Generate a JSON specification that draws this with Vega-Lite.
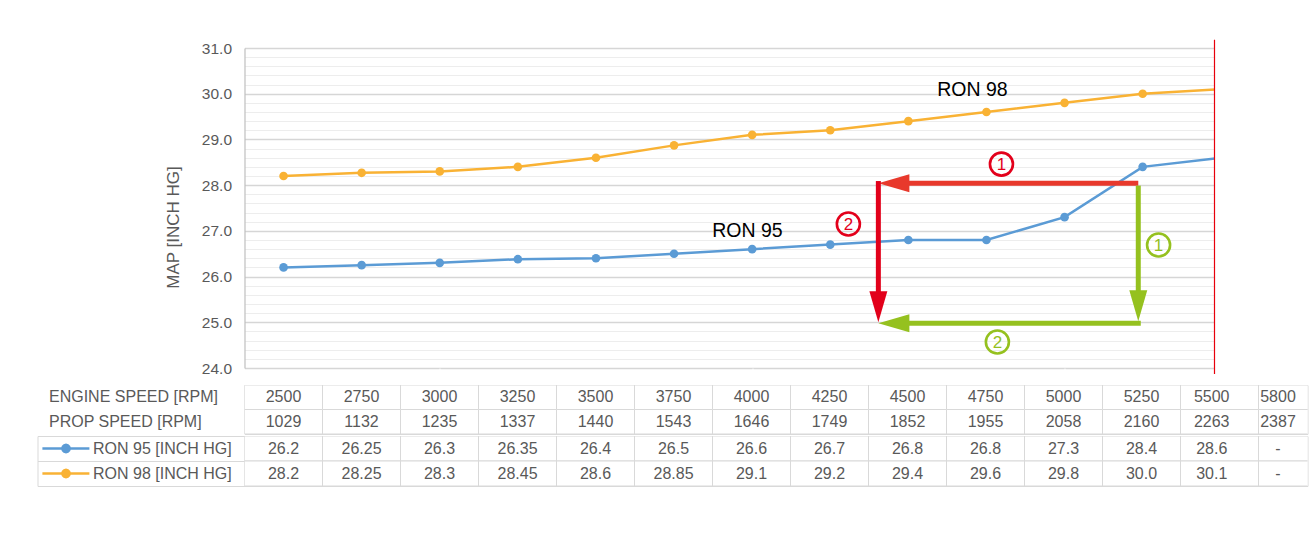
{
  "$schema": "https://vega.github.io/schema/vega-lite/v6.json",
  "padding": {"left": 36.5, "top": 39, "right": 5, "bottom": 5},
  "background": "#ffffff",
  "datasets": {
    "series": [
      {"rpm": 2500, "fuel": "RON 95", "map": 26.2},
      {"rpm": 2750, "fuel": "RON 95", "map": 26.25},
      {"rpm": 3000, "fuel": "RON 95", "map": 26.3},
      {"rpm": 3250, "fuel": "RON 95", "map": 26.38},
      {"rpm": 3500, "fuel": "RON 95", "map": 26.4},
      {"rpm": 3750, "fuel": "RON 95", "map": 26.5},
      {"rpm": 4000, "fuel": "RON 95", "map": 26.6},
      {"rpm": 4250, "fuel": "RON 95", "map": 26.7},
      {"rpm": 4500, "fuel": "RON 95", "map": 26.8},
      {"rpm": 4750, "fuel": "RON 95", "map": 26.8},
      {"rpm": 5000, "fuel": "RON 95", "map": 27.3},
      {"rpm": 5250, "fuel": "RON 95", "map": 28.4},
      {"rpm": 5500, "fuel": "RON 95", "map": 28.6},
      {"rpm": 2500, "fuel": "RON 98", "map": 28.2},
      {"rpm": 2750, "fuel": "RON 98", "map": 28.27},
      {"rpm": 3000, "fuel": "RON 98", "map": 28.3},
      {"rpm": 3250, "fuel": "RON 98", "map": 28.4},
      {"rpm": 3500, "fuel": "RON 98", "map": 28.6},
      {"rpm": 3750, "fuel": "RON 98", "map": 28.87},
      {"rpm": 4000, "fuel": "RON 98", "map": 29.1},
      {"rpm": 4250, "fuel": "RON 98", "map": 29.2},
      {"rpm": 4500, "fuel": "RON 98", "map": 29.4},
      {"rpm": 4750, "fuel": "RON 98", "map": 29.6},
      {"rpm": 5000, "fuel": "RON 98", "map": 29.8},
      {"rpm": 5250, "fuel": "RON 98", "map": 30.0},
      {"rpm": 5500, "fuel": "RON 98", "map": 30.1}
    ],
    "table": [
      {"e": "2500", "p": "1029", "r95": "26.2", "r98": "28.2"},
      {"e": "2750", "p": "1132", "r95": "26.25", "r98": "28.25"},
      {"e": "3000", "p": "1235", "r95": "26.3", "r98": "28.3"},
      {"e": "3250", "p": "1337", "r95": "26.35", "r98": "28.45"},
      {"e": "3500", "p": "1440", "r95": "26.4", "r98": "28.6"},
      {"e": "3750", "p": "1543", "r95": "26.5", "r98": "28.85"},
      {"e": "4000", "p": "1646", "r95": "26.6", "r98": "29.1"},
      {"e": "4250", "p": "1749", "r95": "26.7", "r98": "29.2"},
      {"e": "4500", "p": "1852", "r95": "26.8", "r98": "29.4"},
      {"e": "4750", "p": "1955", "r95": "26.8", "r98": "29.6"},
      {"e": "5000", "p": "2058", "r95": "27.3", "r98": "29.8"},
      {"e": "5250", "p": "2160", "r95": "28.4", "r98": "30.0"},
      {"e": "5500", "p": "2263", "r95": "28.6", "r98": "30.1"},
      {"e": "5800", "p": "2387", "r95": "-", "r98": "-"}
    ]
  },
  "spacing": 0,
  "resolve": {"scale": {"x": "independent", "y": "independent", "color": "independent"}, "axis": {"x": "independent", "y": "independent"}},
  "vconcat": [
    {
      "width": 970,
      "height": 320,
      "view": {"stroke": null},
      "layer": [
        {
          "data": {"name": "series"},
          "mark": {"type": "line", "strokeWidth": 2.5, "clip": true},
          "encoding": {
            "x": {"field": "rpm", "type": "quantitative", "scale": {"domain": [2375, 5480], "nice": false, "zero": false},
              "axis": {"labels": false, "domain": false, "grid": false, "ticks": true, "tickSize": 15, "tickColor": "#ffffff", "tickCount": 3, "title": null}},
            "y": {"field": "map", "type": "quantitative", "scale": {"domain": [24, 31], "nice": false, "zero": false},
              "axis": {
                "values": [24, 24.2, 24.4, 24.6, 24.8, 25, 25.2, 25.4, 25.6, 25.8, 26, 26.2, 26.4, 26.6, 26.8, 27, 27.2, 27.4, 27.6, 27.8, 28, 28.2, 28.4, 28.6, 28.8, 29, 29.2, 29.4, 29.6, 29.8, 30, 30.2, 30.4, 30.6, 30.8, 31],
                "tickCount": 60,
                "labelOverlap": false,
                "labelExpr": "abs(datum.value - round(datum.value)) < 0.001 ? format(datum.value, '.1f') : ''",
                "grid": true,
                "gridColor": {"condition": {"test": "abs(datum.value - round(datum.value)) < 0.001", "value": "#d6d6d6"}, "value": "#ededed"},
                "gridWidth": {"condition": {"test": "abs(datum.value - round(datum.value)) < 0.001", "value": 1.3}, "value": 1},
                "ticks": false,
                "domain": true,
                "domainColor": "#bfbfbf",
                "domainWidth": 1.2,
                "labelPadding": 13,
                "labelFontSize": 15.5,
                "labelColor": "#595959",
                "title": "MAP [INCH HG]",
                "titleFontSize": 17,
                "titleFontWeight": "normal",
                "titleColor": "#595959",
                "titlePadding": 19,
                "titleY": 179
              }},
            "color": {"field": "fuel", "type": "nominal", "scale": {"domain": ["RON 95", "RON 98"], "range": ["#5b9bd5", "#f9b234"]}, "legend": null}
          }
        },
        {
          "data": {"name": "series"},
          "transform": [{"filter": "datum.rpm <= 5250"}],
          "mark": {"type": "point", "filled": true, "opacity": 1, "size": 75},
          "encoding": {
            "x": {"field": "rpm", "type": "quantitative"},
            "y": {"field": "map", "type": "quantitative"},
            "color": {"field": "fuel", "type": "nominal", "legend": null}
          }
        },
        {
          "data": {"values": [{}]},
          "mark": {"type": "rule", "color": "#e8000b", "strokeWidth": 1.2},
          "encoding": {"x": {"datum": 5480}, "y": {"datum": 31.18}, "y2": {"datum": 23.87}}
        },
        {
          "data": {"values": [{}]},
          "mark": {"type": "text", "fontSize": 19.5, "color": "#000000"},
          "encoding": {"x": {"datum": 4705}, "y": {"datum": 30.08}, "text": {"value": "RON 98"}}
        },
        {
          "data": {"values": [{}]},
          "mark": {"type": "text", "fontSize": 19.5, "color": "#000000"},
          "encoding": {"x": {"datum": 3985}, "y": {"datum": 27.0}, "text": {"value": "RON 95"}}
        },
        {
          "data": {"values": [{}]},
          "mark": {"type": "rule", "color": "#e8392c", "strokeWidth": 5, "strokeCap": "butt"},
          "encoding": {"x": {"datum": 5236}, "x2": {"datum": 4452}, "y": {"datum": 28.04}}
        },
        {
          "data": {"values": [{}]},
          "mark": {"type": "point", "shape": "M0,0L1,-0.29L1,0.29Z", "size": 3844, "filled": true, "opacity": 1, "color": "#e8392c", "strokeWidth": 0},
          "encoding": {"x": {"datum": 4404}, "y": {"datum": 28.04}}
        },
        {
          "data": {"values": [{}]},
          "mark": {"type": "rule", "color": "#e2001a", "strokeWidth": 5, "strokeCap": "butt"},
          "encoding": {"x": {"datum": 4404}, "y": {"datum": 28.09}, "y2": {"datum": 25.33}}
        },
        {
          "data": {"values": [{}]},
          "mark": {"type": "point", "shape": "M0,0L-0.29,-1L0.29,-1Z", "size": 3844, "filled": true, "opacity": 1, "color": "#e2001a", "strokeWidth": 0},
          "encoding": {"x": {"datum": 4404}, "y": {"datum": 25.0}}
        },
        {
          "data": {"values": [{}]},
          "mark": {"type": "rule", "color": "#95c11f", "strokeWidth": 5, "strokeCap": "butt"},
          "encoding": {"x": {"datum": 5236}, "y": {"datum": 27.99}, "y2": {"datum": 25.33}}
        },
        {
          "data": {"values": [{}]},
          "mark": {"type": "point", "shape": "M0,0L-0.29,-1L0.29,-1Z", "size": 3844, "filled": true, "opacity": 1, "color": "#95c11f", "strokeWidth": 0},
          "encoding": {"x": {"datum": 5236}, "y": {"datum": 25.02}}
        },
        {
          "data": {"values": [{}]},
          "mark": {"type": "rule", "color": "#95c11f", "strokeWidth": 5, "strokeCap": "butt"},
          "encoding": {"x": {"datum": 5244}, "x2": {"datum": 4452}, "y": {"datum": 24.98}}
        },
        {
          "data": {"values": [{}]},
          "mark": {"type": "point", "shape": "M0,0L1,-0.29L1,0.29Z", "size": 3844, "filled": true, "opacity": 1, "color": "#95c11f", "strokeWidth": 0},
          "encoding": {"x": {"datum": 4404}, "y": {"datum": 24.98}}
        },
        {
          "data": {"values": [{"rpm": 4798, "map": 28.46, "n": "1"}, {"rpm": 4308, "map": 27.15, "n": "2"}]},
          "mark": {"type": "point", "shape": "circle", "filled": false, "size": 530, "strokeWidth": 2.6, "color": "#e3001b", "opacity": 1},
          "encoding": {"x": {"field": "rpm", "type": "quantitative"}, "y": {"field": "map", "type": "quantitative"}}
        },
        {
          "data": {"values": [{"rpm": 4798, "map": 28.46, "n": "1"}, {"rpm": 4308, "map": 27.15, "n": "2"}]},
          "mark": {"type": "text", "fontSize": 17, "color": "#e3001b", "dy": 1},
          "encoding": {"x": {"field": "rpm", "type": "quantitative"}, "y": {"field": "map", "type": "quantitative"}, "text": {"field": "n"}}
        },
        {
          "data": {"values": [{"rpm": 5301, "map": 26.69, "n": "1"}, {"rpm": 4785, "map": 24.57, "n": "2"}]},
          "mark": {"type": "point", "shape": "circle", "filled": false, "size": 530, "strokeWidth": 2.6, "color": "#95c11f", "opacity": 1},
          "encoding": {"x": {"field": "rpm", "type": "quantitative"}, "y": {"field": "map", "type": "quantitative"}}
        },
        {
          "data": {"values": [{"rpm": 5301, "map": 26.69, "n": "1"}, {"rpm": 4785, "map": 24.57, "n": "2"}]},
          "mark": {"type": "text", "fontSize": 17, "color": "#95c11f", "dy": 1},
          "encoding": {"x": {"field": "rpm", "type": "quantitative"}, "y": {"field": "map", "type": "quantitative"}, "text": {"field": "n"}}
        }
      ]
    },
    {
      "width": 1063,
      "height": 49,
      "view": {"stroke": "#d9d9d9", "strokeWidth": 1},
      "data": {"name": "table"},
      "transform": [{"fold": ["e", "p"], "as": ["row", "text"]}],
      "layer": [
        {
          "mark": {"type": "rect", "fill": "#ffffff", "stroke": "#d9d9d9", "strokeWidth": 1, "clip": true},
          "encoding": {
            "x": {"field": "e", "type": "nominal", "sort": null, "scale": {"domain": ["2500","2750","3000","3250","3500","3750","4000","4250","4500","4750","5000","5250","5500","5800"], "range": [0, 1092], "paddingInner": 0, "paddingOuter": 0}, "axis": null},
            "y": {"field": "row", "type": "nominal", "sort": null, "scale": {"domain": ["e", "p"], "paddingInner": 0, "paddingOuter": 0},
              "axis": {"title": null, "domain": false, "ticks": false, "labelAlign": "left", "labelPadding": 196, "labelFontSize": 16, "labelColor": "#595959", "labelExpr": "datum.value == 'e' ? 'ENGINE SPEED [RPM]' : 'PROP SPEED [RPM]'"}}
          }
        },
        {
          "transform": [{"filter": "datum.e != '5500' && datum.e != '5800'"}],
          "mark": {"type": "text", "fontSize": 16, "color": "#595959"},
          "encoding": {
            "x": {"field": "e", "type": "nominal", "sort": null},
            "y": {"field": "row", "type": "nominal", "sort": null},
            "text": {"field": "text"}
          }
        },
        {
          "transform": [{"filter": "datum.e == '5500'"}],
          "mark": {"type": "text", "fontSize": 16, "color": "#595959"},
          "encoding": {
            "x": {"field": "e", "type": "nominal", "sort": null, "bandPosition": 0.4},
            "y": {"field": "row", "type": "nominal", "sort": null},
            "text": {"field": "text"}
          }
        },
        {
          "transform": [{"filter": "datum.e == '5800'"}],
          "mark": {"type": "text", "fontSize": 16, "color": "#595959"},
          "encoding": {
            "x": {"field": "e", "type": "nominal", "sort": null, "bandPosition": 0.25},
            "y": {"field": "row", "type": "nominal", "sort": null},
            "text": {"field": "text"}
          }
        }
      ]
    },
    {
      "width": 1063,
      "height": 50,
      "view": {"stroke": "#d9d9d9", "strokeWidth": 1},
      "data": {"name": "table"},
      "transform": [{"fold": ["r95", "r98"], "as": ["row", "text"]}],
      "resolve": {"axis": {"y": "independent"}},
      "layer": [
        {
          "mark": {"type": "rect", "fill": "#ffffff", "stroke": "#d9d9d9", "strokeWidth": 1, "clip": true},
          "encoding": {
            "x": {"field": "e", "type": "nominal", "sort": null, "scale": {"domain": ["2500","2750","3000","3250","3500","3750","4000","4250","4500","4750","5000","5250","5500","5800"], "range": [0, 1092], "paddingInner": 0, "paddingOuter": 0}, "axis": null},
            "y": {"field": "row", "type": "nominal", "sort": null, "scale": {"domain": ["r95", "r98"], "paddingInner": 0, "paddingOuter": 0},
              "axis": {"title": null, "domain": false, "ticks": false, "labelAlign": "left", "labelPadding": 152, "labelFontSize": 16, "labelColor": "#595959", "labelExpr": "datum.value == 'r95' ? 'RON 95 [INCH HG]' : 'RON 98 [INCH HG]'"}}
          }
        },
        {
          "transform": [{"filter": "datum.e != '5500' && datum.e != '5800'"}],
          "mark": {"type": "text", "fontSize": 16, "color": "#595959"},
          "encoding": {
            "x": {"field": "e", "type": "nominal", "sort": null},
            "y": {"field": "row", "type": "nominal", "sort": null, "axis": null},
            "text": {"field": "text"}
          }
        },
        {
          "transform": [{"filter": "datum.e == '5500'"}],
          "mark": {"type": "text", "fontSize": 16, "color": "#595959"},
          "encoding": {
            "x": {"field": "e", "type": "nominal", "sort": null, "bandPosition": 0.4},
            "y": {"field": "row", "type": "nominal", "sort": null, "axis": null},
            "text": {"field": "text"}
          }
        },
        {
          "transform": [{"filter": "datum.e == '5800'"}],
          "mark": {"type": "text", "fontSize": 16, "color": "#595959"},
          "encoding": {
            "x": {"field": "e", "type": "nominal", "sort": null, "bandPosition": 0.25},
            "y": {"field": "row", "type": "nominal", "sort": null, "axis": null},
            "text": {"field": "text"}
          }
        },
        {
          "transform": [{"filter": "datum.e == '2500'"}],
          "mark": {"type": "point", "shape": "M-8.6,0L-6.6,0", "size": 2209, "filled": false, "strokeWidth": 2.5, "opacity": 1},
          "encoding": {
            "x": {"field": "e", "type": "nominal", "sort": null, "bandPosition": 0},
            "y": {"field": "row", "type": "nominal", "sort": null, "axis": {"orient": "left", "offset": 207, "title": null, "domain": true, "domainColor": "#d9d9d9", "domainWidth": 1, "ticks": true, "tickBand": "extent", "tickSize": -207, "tickColor": "#d9d9d9", "tickWidth": 1, "labels": false, "grid": false}},
            "color": {"field": "row", "type": "nominal", "scale": {"domain": ["r95", "r98"], "range": ["#5b9bd5", "#f9b234"]}, "legend": null}
          }
        },
        {
          "transform": [{"filter": "datum.e == '2500'"}],
          "mark": {"type": "point", "shape": "M-7.3875,0L-7.4154,0.1043L-7.4917,0.1806L-7.596,0.2085L-7.7003,0.1806L-7.7766,0.1043L-7.8045,0L-7.7766,-0.1043L-7.7003,-0.1806L-7.596,-0.2085L-7.4917,-0.1806L-7.4154,-0.1043Z", "size": 2209, "filled": true, "strokeWidth": 0, "opacity": 1},
          "encoding": {
            "x": {"field": "e", "type": "nominal", "sort": null, "bandPosition": 0},
            "y": {"field": "row", "type": "nominal", "sort": null, "axis": null},
            "color": {"field": "row", "type": "nominal", "legend": null}
          }
        }
      ]
    }
  ],
  "config": {
    "font": "Liberation Sans",
    "axis": {"labelFont": "Liberation Sans", "titleFont": "Liberation Sans"},
    "text": {"font": "Liberation Sans"}
  }
}
